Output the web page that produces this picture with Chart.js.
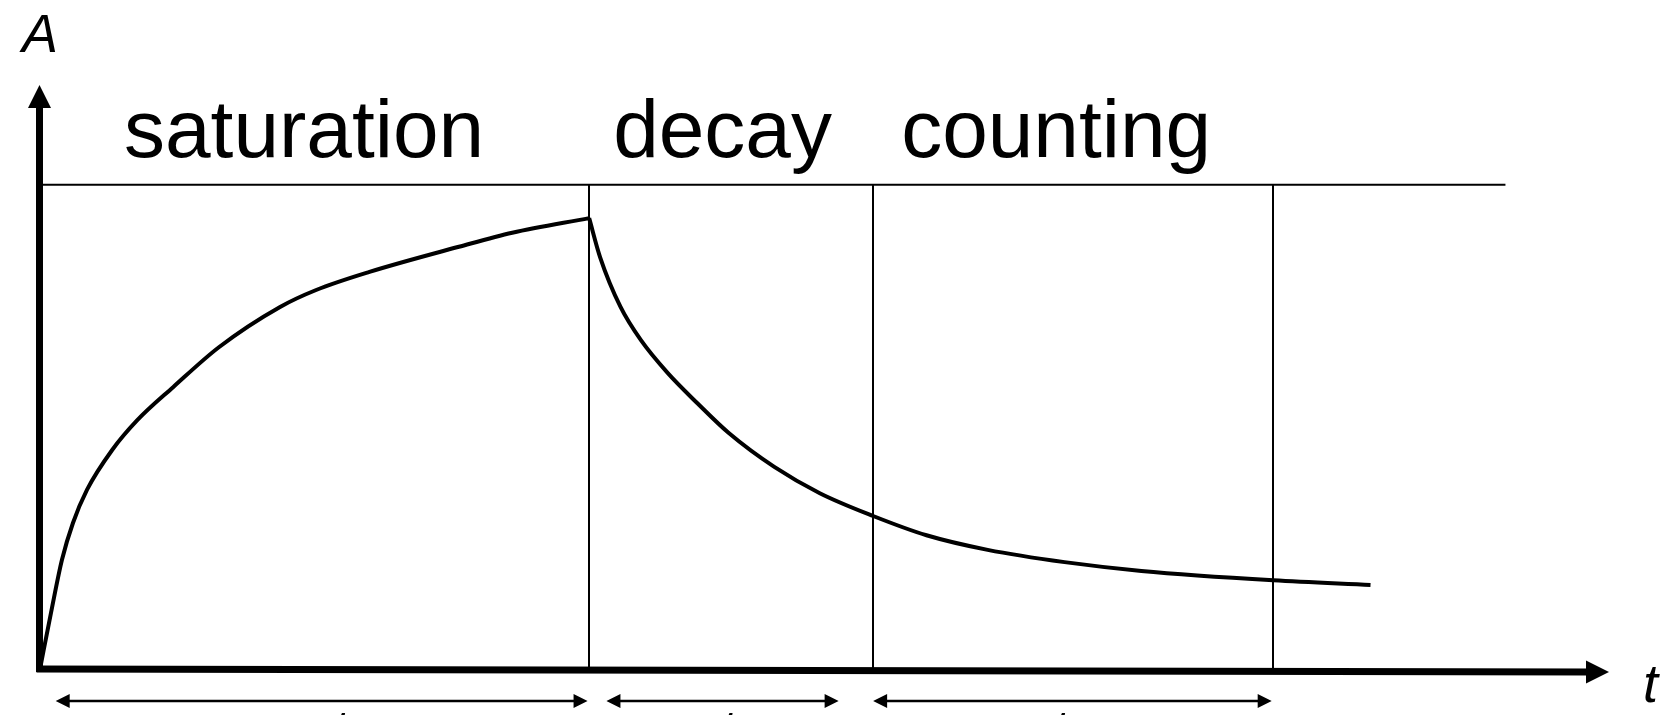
<!DOCTYPE html>
<html lang="en">
<head>
  <meta charset="UTF-8">
  <title>Activity: saturation, decay, counting</title>
  <script src="https://cdn.jsdelivr.net/npm/chart.js"></script>
  <style>
    html, body {
      margin: 0;
      padding: 0;
      background: #fff;
    }
    .chart-container {
      width: 1667px;
      height: 715px;
      position: relative;
    }
  </style>
</head>
<body>
  <div class="chart-container">
    <canvas id="activityChart"></canvas>
  </div>

  <script>
    // activity during irradiation (saturation)
    const riseT = [0, 0.7, 1.4, 2.1, 3.0, 4.6, 6.2, 8.5, 11.4, 15.3, 17.6, 21.0, 26.7, 30.1, 35.0];
    const riseA = [0, 9.6, 18.7, 25.0, 30.7, 37.5, 42.6, 48.3, 55.1, 62.0, 64.9, 68.0, 72.3, 74.7, 77.2];

    // activity after irradiation (decay + counting)
    const fallT = [35.0, 35.7, 37.0, 38.3, 40.0, 41.9, 43.9, 46.8, 49.7, 53.1, 56.5, 60.4, 65.3, 70.2, 78.6, 84.8];
    const fallA = [77.2, 70.5, 62.0, 56.3, 50.7, 45.5, 40.4, 34.6, 30.1, 26.2, 22.9, 20.4, 18.3, 16.8, 15.2, 14.4];

    // phases
    const phaseNames = ['saturation', 'decay', 'counting'];
    const phaseBounds = [0, 35.0, 53.1, 78.6];
    const phaseSpans = [[1.0, 34.9], [36.1, 50.9], [53.1, 78.5]];
    const phaseSymbols = ['t', 't', 't'];
    const topLineA = 82.9;
    const topLineEnd = 93.4;

    const toPoints = (xs, ys) => xs.map((x, i) => ({ x: x, y: ys[i] }));

    function arrowHead(ctx, x, y, dx, dy, len, half) {
      // tip at (x,y), pointing in direction (dx,dy)
      ctx.beginPath();
      ctx.moveTo(x, y);
      ctx.lineTo(x - dx * len - dy * half, y - dy * len + dx * half);
      ctx.lineTo(x - dx * len + dy * half, y - dy * len - dx * half);
      ctx.closePath();
      ctx.fill();
    }

    const sketchPlugin = {
      id: 'sketch',
      beforeDatasetsDraw(chart) {
        const ctx = chart.ctx;
        const xs = chart.scales.x, ys = chart.scales.y;
        const yTop = ys.getPixelForValue(topLineA);
        const yBase = ys.getPixelForValue(0);
        ctx.save();
        ctx.strokeStyle = '#000';
        ctx.lineWidth = 2;
        // horizontal line above the curve
        ctx.beginPath();
        ctx.moveTo(xs.getPixelForValue(0), yTop);
        ctx.lineTo(xs.getPixelForValue(topLineEnd), yTop);
        ctx.stroke();
        // phase borders
        phaseBounds.slice(1).forEach(b => {
          const px = Math.round(xs.getPixelForValue(b));
          ctx.beginPath();
          ctx.moveTo(px, yTop);
          ctx.lineTo(px, yBase);
          ctx.stroke();
        });
        ctx.restore();
      },
      afterDatasetsDraw(chart) {
        const ctx = chart.ctx;
        const xs = chart.scales.x, ys = chart.scales.y;
        const area = chart.chartArea;
        const x0 = xs.getPixelForValue(0) - 0.5;
        const y0 = ys.getPixelForValue(0);
        ctx.save();
        ctx.fillStyle = '#000';
        ctx.strokeStyle = '#000';

        // y axis
        ctx.lineWidth = 7;
        ctx.beginPath();
        ctx.moveTo(x0, y0 + 3);
        ctx.lineTo(x0, area.top + 20);
        ctx.stroke();
        arrowHead(ctx, x0, area.top, 0, -1, 23, 11.5);

        // t axis (slightly tilted as in the original sketch)
        const xEnd = area.right;
        ctx.beginPath();
        ctx.moveTo(x0 - 3, y0);
        ctx.lineTo(xEnd - 20, y0 + 3);
        ctx.stroke();
        arrowHead(ctx, xEnd, y0 + 3, 1, 0, 23, 11.5);

        // axis labels
        ctx.font = 'italic 54px "Liberation Sans", Arial, sans-serif';
        ctx.textBaseline = 'alphabetic';
        ctx.textAlign = 'left';
        ctx.fillText('A', 22, 52);
        ctx.fillText('t', xEnd + 34, y0 + 33);

        // phase names
        ctx.font = '82px "Liberation Sans", Arial, sans-serif';
        const nameOffsets = [84, 24, 28];
        phaseNames.forEach((name, i) => {
          ctx.fillText(name, xs.getPixelForValue(phaseBounds[i]) + nameOffsets[i], 157);
        });

        // duration arrows under the axis
        const yArr = y0 + 32;
        ctx.lineWidth = 2.5;
        phaseSpans.forEach(([a, b]) => {
          const pa = xs.getPixelForValue(a), pb = xs.getPixelForValue(b);
          ctx.beginPath();
          ctx.moveTo(pa + 10, yArr);
          ctx.lineTo(pb - 10, yArr);
          ctx.stroke();
          arrowHead(ctx, pa, yArr, -1, 0, 14, 7);
          arrowHead(ctx, pb, yArr, 1, 0, 14, 7);
        });

        // duration symbols (mostly below the visible area)
        ctx.font = 'italic 54px "Liberation Sans", Arial, sans-serif';
        ctx.textAlign = 'center';
        const symX = [19.1, 43.8, 65.0];
        phaseSymbols.forEach((s, i) => {
          ctx.fillText(s, xs.getPixelForValue(symX[i]), y0 + 79);
        });
        ctx.restore();
      }
    };

    const ctx = document.getElementById('activityChart').getContext('2d');
    new Chart(ctx, {
      type: 'line',
      data: {
        datasets: [
          {
            label: 'saturation',
            data: toPoints(riseT, riseA),
            borderColor: '#000',
            borderWidth: 4,
            pointRadius: 0,
            cubicInterpolationMode: 'monotone',
            fill: false,
            clip: false
          },
          {
            label: 'decay',
            data: toPoints(fallT, fallA),
            borderColor: '#000',
            borderWidth: 4,
            pointRadius: 0,
            cubicInterpolationMode: 'monotone',
            fill: false,
            clip: false
          }
        ]
      },
      options: {
        responsive: true,
        maintainAspectRatio: false,
        animation: false,
        layout: {
          padding: { left: 40, right: 58, top: 85, bottom: 46 }
        },
        scales: {
          x: { type: 'linear', min: 0, max: 100, display: false },
          y: { min: 0, max: 100, display: false }
        },
        plugins: {
          legend: { display: false },
          tooltip: { enabled: false }
        }
      },
      plugins: [sketchPlugin]
    });
  </script>
</body>
</html>
